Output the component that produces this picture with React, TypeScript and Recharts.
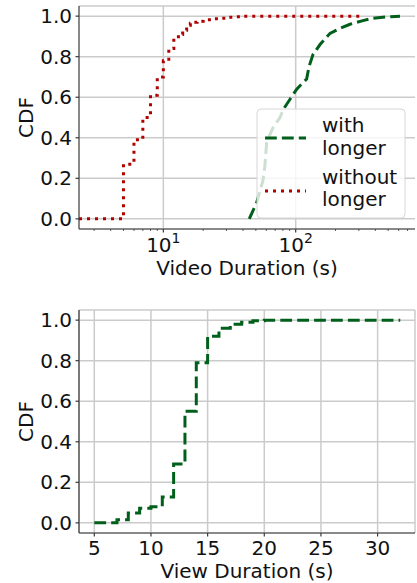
import React from 'react';
import { LineChart, Line, XAxis, YAxis, CartesianGrid } from 'recharts';

// top panel: video duration CDF (log x)
const withLongerX = [44.6, 50.7, 56.6, 58.5, 60.4, 67.4, 76.1, 80.6, 90.6, 101.8, 121, 126, 135, 152.7, 181.7, 216.2, 257.3, 322.6, 384, 490, 614];
const withLongerY = [0, 0.08, 0.19, 0.26, 0.38, 0.45, 0.5, 0.54, 0.59, 0.64, 0.69, 0.75, 0.81, 0.86, 0.915, 0.94, 0.96, 0.978, 0.99, 0.996, 1.0];

const withoutLongerX = [2.306, 5, 6, 7, 8, 9, 10, 11, 12, 13, 14, 15, 16, 17, 18, 20, 23, 26, 30, 35, 40, 325];
const withoutLongerY = [0, 0.27, 0.39, 0.5, 0.61, 0.7, 0.78, 0.84, 0.89, 0.91, 0.93, 0.955, 0.965, 0.97, 0.975, 0.982, 0.987, 0.99, 0.995, 0.997, 1.0, 1.0];

// bottom panel: view duration CDF
const viewX = [5, 6, 7, 8, 9, 10, 11, 12, 13, 14, 15, 16, 17, 18, 19, 20, 32];
const viewY = [0, 0, 0.015, 0.049, 0.072, 0.08, 0.128, 0.29, 0.55, 0.79, 0.92, 0.96, 0.98, 0.99, 0.997, 1.0, 1.0];

const majorLogTicks = [10, 100];
const minorLogTicks = [3, 4, 5, 6, 7, 8, 9, 20, 30, 40, 50, 60, 70, 80, 90, 200, 300, 400, 500, 600, 700];
const cdfTicks = [0, 0.2, 0.4, 0.6, 0.8, 1.0];
const viewTicks = [5, 10, 15, 20, 25, 30];

const zip = (xs: number[], ys: number[]) => xs.map((x, i) => ({ x, y: ys[i] }));
const withData = zip(withLongerX, withLongerY);
const withoutData = zip(withoutLongerX, withoutLongerY);
const viewData = zip(viewX, viewY);

const GREEN = '#005f1b';
const RED = '#b00000';
const GRID = '#cbcbcb';
const SPINE = '#3a3a3a';
const FONT = 'DejaVu Sans';

const tickStyle = { fontSize: 20, fill: '#111', fontFamily: FONT };
const labelStyle = { fontSize: 20, fill: '#111', fontFamily: FONT, textAnchor: 'middle' as const };

const LogTick = (props: any) => {
  const { x, y, payload } = props;
  const v = payload.value;
  const major = majorLogTicks.includes(v);
  return (
    <g>
      <line x1={x} x2={x} y1={y} y2={y + (major ? 3.5 : 2)} stroke={SPINE} strokeWidth={major ? 1.2 : 0.8} />
      {major && (
        <text x={x} y={y + 23} textAnchor="middle" fontSize={20} fill="#111" fontFamily={FONT}>
          10<tspan dy={-9} fontSize={14}>{Math.round(Math.log10(v))}</tspan>
        </text>
      )}
    </g>
  );
};

const Legend1 = () => (
  <svg width={150} height={111} style={{ position: 'absolute', left: 256, top: 108 }}>
    <rect x={1} y={1} width={148} height={109} rx={4} fill="rgba(255,255,255,0.8)" stroke="#d6d6d6" strokeWidth={1} />
    <line x1={9} x2={50} y1={30} y2={30} stroke={GREEN} strokeWidth={3} strokeDasharray="11.8 5.1" />
    <line x1={9} x2={50} y1={83} y2={83} stroke={RED} strokeWidth={3} strokeDasharray="3 5" />
    <text fontSize={20} fill="#111" fontFamily={FONT}>
      <tspan x={66} y={24}>with</tspan>
      <tspan x={66} y={46.5}>longer</tspan>
      <tspan x={66} y={75.5}>without</tspan>
      <tspan x={66} y={98}>longer</tspan>
    </text>
  </svg>
);

export default function App() {
  return (
    <div style={{ position: 'absolute', left: 0, top: 0, width: 417, height: 583, background: '#fff', fontFamily: FONT }}>
      <div style={{ position: 'absolute', left: 0, top: 0 }}>
        <LineChart width={417} height={290} margin={{ top: 6, right: 2, bottom: 0, left: 0 }}>
          <CartesianGrid stroke={GRID} strokeWidth={1.5} verticalValues={majorLogTicks} />
          <XAxis
            dataKey="x"
            type="number"
            scale="log"
            domain={[2.306, 797]}
            allowDataOverflow
            ticks={[...minorLogTicks, ...majorLogTicks].sort((a, b) => a - b)}
            interval={0}
            tick={<LogTick />}
            tickLine={false}
            tickSize={0}
            tickMargin={0}
            height={61}
            stroke={SPINE}
            strokeWidth={1.2}
            label={{ value: 'Video Duration (s)', position: 'insideBottom', offset: 15, style: labelStyle }}
          />
          <XAxis xAxisId="top" orientation="top" height={0} tick={false} tickLine={false} stroke={SPINE} strokeWidth={1.2} />
          <YAxis
            type="number"
            domain={[-0.05, 1.05]}
            ticks={cdfTicks}
            interval={0}
            tickFormatter={(v: number) => v.toFixed(1)}
            width={79}
            tickSize={3.5}
            tickMargin={3.5}
            tick={tickStyle}
            stroke={SPINE}
            strokeWidth={1.2}
            label={{ value: 'CDF', angle: -90, position: 'insideLeft', offset: 26, style: labelStyle }}
          />
          <YAxis yAxisId="right" orientation="right" width={0} tick={false} tickLine={false} stroke={SPINE} strokeWidth={1.2} />
          <Line data={withoutData} dataKey="y" type="stepAfter" stroke={RED} strokeWidth={3} strokeDasharray="3 5" dot={false} isAnimationActive={false} />
          <Line data={withData} dataKey="y" type="linear" stroke={GREEN} strokeWidth={3} strokeDasharray="11.8 5.1" dot={false} isAnimationActive={false} />
        </LineChart>
        <Legend1 />
      </div>
      <div style={{ position: 'absolute', left: 0, top: 290 }}>
        <LineChart width={417} height={293} data={viewData} margin={{ top: 20, right: 2, bottom: 0, left: 0 }}>
          <CartesianGrid stroke={GRID} strokeWidth={1.5} />
          <XAxis
            dataKey="x"
            type="number"
            domain={[3.65, 33.3]}
            allowDataOverflow
            ticks={viewTicks}
            interval={0}
            tickSize={3.5}
            tickMargin={4.3}
            tick={tickStyle}
            height={50}
            stroke={SPINE}
            strokeWidth={1.2}
            label={{ value: 'View Duration (s)', position: 'insideBottom', offset: 5, style: labelStyle }}
          />
          <XAxis xAxisId="top" orientation="top" height={0} tick={false} tickLine={false} stroke={SPINE} strokeWidth={1.2} />
          <YAxis
            type="number"
            domain={[-0.05, 1.05]}
            ticks={cdfTicks}
            interval={0}
            tickFormatter={(v: number) => v.toFixed(1)}
            width={79}
            tickSize={3.5}
            tickMargin={3.5}
            tick={tickStyle}
            stroke={SPINE}
            strokeWidth={1.2}
            label={{ value: 'CDF', angle: -90, position: 'insideLeft', offset: 26, style: labelStyle }}
          />
          <YAxis yAxisId="right" orientation="right" width={0} tick={false} tickLine={false} stroke={SPINE} strokeWidth={1.2} />
          <Line dataKey="y" type="stepAfter" stroke={GREEN} strokeWidth={3} strokeDasharray="11.8 5.1" dot={false} isAnimationActive={false} />
        </LineChart>
      </div>
    </div>
  );
}
